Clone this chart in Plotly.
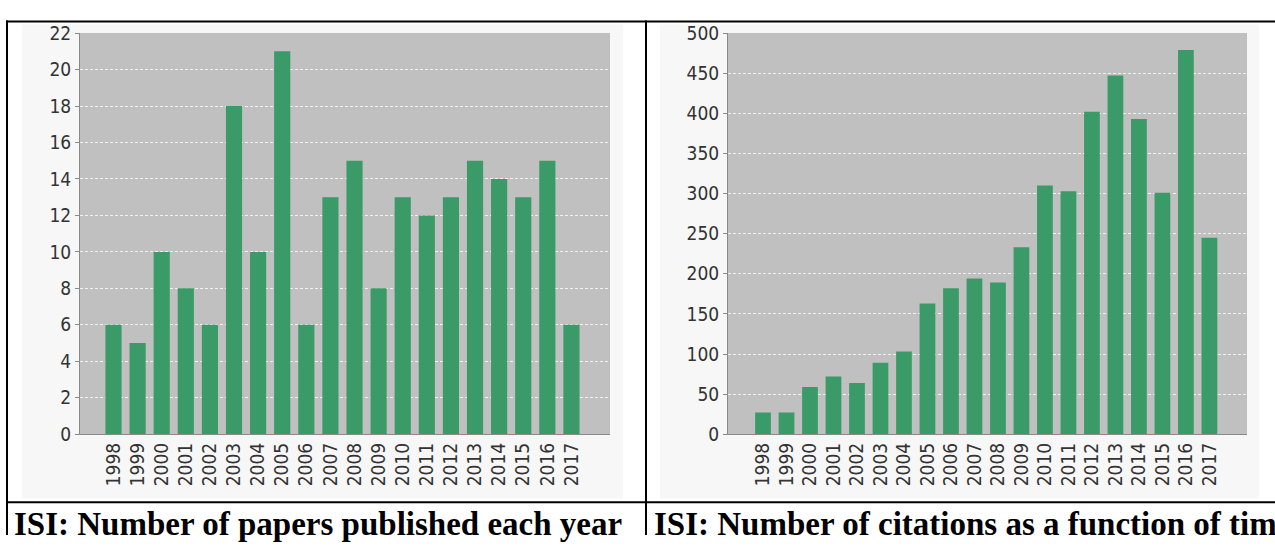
import plotly.graph_objects as go

years = [str(y) for y in range(1998, 2018)]
papers = [6, 5, 10, 8, 6, 18, 10, 21, 6, 13, 15, 8, 13, 12, 13, 15, 14, 13, 15, 6]
citations = [27, 27, 59, 72, 64, 89, 103, 163, 182, 194, 189, 233, 310, 303, 402, 447, 393, 301, 479, 245]
caption_left = "ISI: Number of papers published each year"
caption_right = "ISI: Number of citations as a function of time"

W, H = 1275, 546
BAR = "#3a9b69"
PLOT_BG = "#c0c0c0"
LIGHT = "#f7f7f7"


def px(x):
    return x / W


def py(y):
    return 1 - y / H


fig = go.Figure()
fig.add_trace(go.Bar(x=years, y=papers, marker_color=BAR, marker_line_width=0,
                     xaxis="x", yaxis="y", showlegend=False))
fig.add_trace(go.Bar(x=years, y=citations, marker_color=BAR, marker_line_width=0,
                     xaxis="x2", yaxis="y2", showlegend=False))

tickfont = dict(family="DejaVu Sans Condensed, DejaVu Sans, sans-serif", size=19, color="#333333")

x_common = dict(type="category", tickangle=-90, tickfont=tickfont, showgrid=False,
                showline=True, linecolor="#8a8a8a", linewidth=1, ticks="", zeroline=False,
                fixedrange=True)
y_common = dict(tickfont=tickfont, showgrid=True, gridcolor="#f2f2f2", griddash="3px,2px",
                gridwidth=1, showline=True, linecolor="#8a8a8a", linewidth=1,
                ticks="outside", ticklen=4, tickcolor="#8a8a8a", zeroline=False,
                fixedrange=True)

ybot, ytop = py(441), py(23)
fig.update_layout(
    width=W, height=H,
    margin=dict(l=0, r=0, t=0, b=0),
    paper_bgcolor="white",
    plot_bgcolor="rgba(0,0,0,0)",
    bargap=0.33,
    xaxis=dict(domain=[px(80), px(610)], range=[-1.39, 20.6], anchor="y", **x_common),
    yaxis=dict(domain=[ybot, ytop], range=[0, 22], dtick=2, anchor="x", **y_common),
    xaxis2=dict(domain=[px(728), px(1247)], range=[-1.49, 20.6], anchor="y2", **x_common),
    yaxis2=dict(domain=[ybot, ytop], range=[0, 500], dtick=50, anchor="x2", **y_common),
)

shapes = []
# light panels
for x0, x1 in [(22, 623), (660, 1259)]:
    shapes.append(dict(type="rect", xref="paper", yref="paper", x0=px(x0), x1=px(x1),
                       y0=py(508), y1=py(14), fillcolor=LIGHT, line_width=0, layer="below"))
# gray plot areas
for x0, x1 in [(80, 610), (728, 1247)]:
    shapes.append(dict(type="rect", xref="paper", yref="paper", x0=px(x0), x1=px(x1),
                       y0=ybot, y1=ytop, fillcolor=PLOT_BG, line_width=0, layer="below"))
# table borders
border = dict(color="black", width=2)
shapes.append(dict(type="line", xref="paper", yref="paper", x0=px(6), x1=1.0,
                   y0=py(11), y1=py(11), line=border))
shapes.append(dict(type="line", xref="paper", yref="paper", x0=px(6), x1=1.0,
                   y0=py(512), y1=py(512), line=border))
for x in [7, 646]:
    shapes.append(dict(type="line", xref="paper", yref="paper", x0=px(x), x1=px(x),
                       y0=py(10), y1=0, line=border))
fig.update_layout(shapes=shapes)

capfont = dict(family="Liberation Serif, Times New Roman, serif", size=33, color="black")
fig.add_annotation(text="<b>" + caption_left + "</b>", xref="paper", yref="paper",
                   x=px(12), y=py(535), xanchor="left", yanchor="middle", showarrow=False,
                   font=capfont)
fig.add_annotation(text="<b>" + caption_right + "</b>", xref="paper", yref="paper",
                   x=px(652), y=py(535), xanchor="left", yanchor="middle", showarrow=False,
                   font=capfont)

fig.write_html(
    "out.html",
    config={"displayModeBar": False},
    post_script="document.body.style.margin='0';document.body.style.overflow='hidden';",
)
